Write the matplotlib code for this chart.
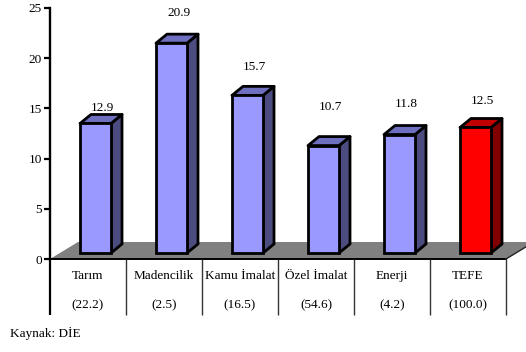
import matplotlib
matplotlib.use("Agg")
import matplotlib.pyplot as plt
from matplotlib.patches import Polygon

# ---------------------------------------------------------------- data
categories = ["Tarım", "Madencilik", "Kamu İmalat", "Özel İmalat", "Enerji", "TEFE"]
weights = ["(22.2)", "(2.5)", "(16.5)", "(54.6)", "(4.2)", "(100.0)"]
values = [12.9, 20.9, 15.7, 10.7, 11.8, 12.5]
label_lift = [1.5, 3.0, 2.8, 3.8, 3.0, 2.6]     # label height above bar top (units)

front_colors = ["#9999ff"] * 5 + ["#ff0000"]
top_colors = ["#6f6fbf"] * 5 + ["#c00000"]
side_colors = ["#4c4c80"] * 5 + ["#800000"]

W, H = 526, 352
PX_X = 1 / 76.0            # category units per pixel
PX_Y = 25 / 251.0          # value units per pixel

plt.rcParams["font.family"] = ["Liberation Serif", "DejaVu Serif"]
plt.rcParams["font.size"] = 9.5

fig = plt.figure(figsize=(W / 100, H / 100), dpi=100)
ax = fig.add_axes([50 / W, (H - 259) / H, 456 / W, 251 / H])
ax.set_xlim(0, 6)
ax.set_ylim(0, 25)
ax.patch.set_alpha(0)
for s in ("top", "right", "bottom"):
    ax.spines[s].set_visible(False)
ax.spines["left"].set_linewidth(1.7)
ax.set_xticks([])
ax.set_yticks(range(0, 26, 5))
ax.tick_params(axis="y", length=4.5, width=1.6, pad=1.5, labelsize=9.5)

# ---------------------------------------------------------------- floor
fdx, fdy = 28 * PX_X, 17 * PX_Y
floor = Polygon([(0, 0), (6, 0), (6 + fdx, fdy), (fdx, fdy)], closed=True,
                facecolor="#808080", edgecolor="none", clip_on=False, zorder=1)
ax.add_patch(floor)
ax.plot([0, 6], [0, 0], color="black", lw=1.4, clip_on=False, zorder=2)
ax.plot([6, 6 + fdx], [0, fdy], color="#222222", lw=1.0, clip_on=False, zorder=2)

# ---------------------------------------------------------------- bars
x0_off, bw = 30 * PX_X, 31 * PX_X
base = 6 * PX_Y
ddx, ddy = 11 * PX_X, 9 * PX_Y
lw = 2.0
for i, v in enumerate(values):
    x0 = i + x0_off
    x1 = x0 + bw
    top = base + v
    side = Polygon([(x1, base), (x1, top), (x1 + ddx, top + ddy), (x1 + ddx, base + ddy)],
                   closed=True, facecolor=side_colors[i], edgecolor="black", lw=lw,
                   joinstyle="round", zorder=3)
    lid = Polygon([(x0, top), (x1, top), (x1 + ddx, top + ddy), (x0 + ddx, top + ddy)],
                  closed=True, facecolor=top_colors[i], edgecolor="black", lw=lw,
                  joinstyle="round", zorder=3)
    ax.add_patch(side)
    ax.add_patch(lid)
    ax.bar(x0, v, width=bw, bottom=base, align="edge", color=front_colors[i],
           edgecolor="black", linewidth=lw, zorder=4)
    ax.text(x0 + bw / 2 + ddx / 2 + 1.5 * PX_X, top + label_lift[i], f"{v:.1f}",
            ha="center", va="center", zorder=5)

# ---------------------------------------------------------------- table below
table_bot = -56 * PX_Y
ax.vlines([0], table_bot, 0, color="black", lw=1.6, clip_on=False)
ax.vlines(range(1, 7), table_bot, 0, color="#333333", lw=1.0, clip_on=False)
for i, (c, w) in enumerate(zip(categories, weights)):
    ax.text(i + 0.5, -17 * PX_Y, c, ha="center", va="center", clip_on=False)
    ax.text(i + 0.5, -46 * PX_Y, w, ha="center", va="center", clip_on=False)

fig.text(10 / W, 1 - 333 / H, "Kaynak: DİE", ha="left", va="center", fontsize=9.5)

fig.savefig("out.png", dpi=100)
